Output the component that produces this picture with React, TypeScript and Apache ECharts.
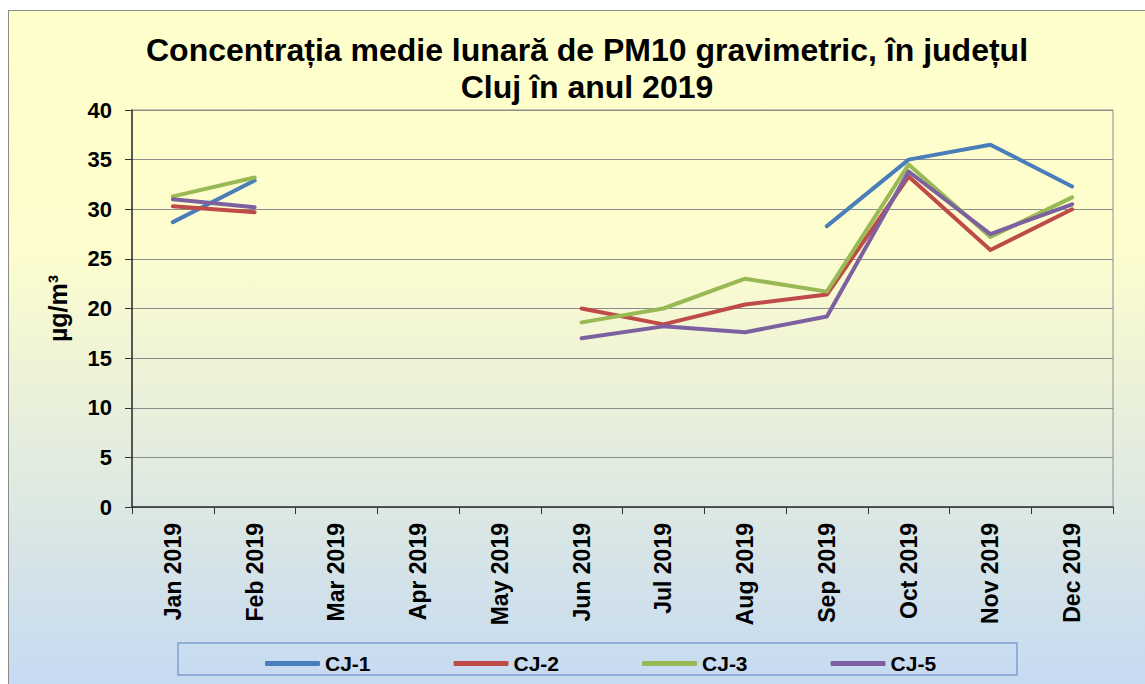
import React, { useEffect, useRef } from "react";
import * as echarts from "echarts";

const months = ["Jan 2019", "Feb 2019", "Mar 2019", "Apr 2019", "May 2019", "Jun 2019", "Jul 2019", "Aug 2019", "Sep 2019", "Oct 2019", "Nov 2019", "Dec 2019"];
const seriesNames = ["CJ-1", "CJ-2", "CJ-3", "CJ-5"];
const cj1 = [28.7, 32.9, null, null, null, null, null, null, 28.3, 35.0, 36.5, 32.3];
const cj2 = [30.3, 29.7, null, null, null, 20.0, 18.4, 20.4, 21.4, 33.3, 25.9, 30.0];
const cj3 = [31.3, 33.2, null, null, null, 18.6, 20.0, 23.0, 21.7, 34.5, 27.2, 31.2];
const cj5 = [31.0, 30.2, null, null, null, 17.0, 18.2, 17.6, 19.2, 33.8, 27.5, 30.5];
const colors = ["#4A7EBB", "#BE4B48", "#98B954", "#7D60A0"];
const titleText = "Concentrația medie lunară de PM10 gravimetric, în județul\nCluj în anul 2019";
const yName = "µg/m³";

const FONT = "'Liberation Sans', Arial, sans-serif";

export default function App() {
  const ref = useRef<HTMLDivElement>(null);
  useEffect(() => {
    if (!ref.current) return;
    const chart = echarts.init(ref.current, null, { renderer: "svg" });
    const data = [cj1, cj2, cj3, cj5];
    chart.setOption({
      animation: false,
      backgroundColor: new echarts.graphic.LinearGradient(0, 0, 0, 1, [
        { offset: 0, color: "#FFFFCC" },
        { offset: 0.35, color: "#FDFDCD" },
        { offset: 1, color: "#C6DAF2" },
      ]),
      title: {
        text: titleText,
        left: 574,
        top: 16,
        textAlign: "center",
        textStyle: { fontFamily: FONT, fontWeight: "bold", fontSize: 32, lineHeight: 37, color: "#000" },
      },
      graphic: [
        {
          type: "rect",
          shape: { x: 0, y: 0, width: 1145, height: 700 },
          style: { fill: "none", stroke: "#8C8C8C", lineWidth: 2 },
          silent: true,
        },
        {
          type: "rect",
          shape: { x: 170, y: 633, width: 839, height: 32 },
          style: { fill: "none", stroke: "#7F9FCF", lineWidth: 1.5 },
          silent: true,
          z: 0,
        },
      ],
      legend: {
        data: seriesNames,
        left: 252,
        top: 638,
        itemWidth: 55,
        itemHeight: 5,
        itemGap: 83,
        icon: "roundRect",
        textStyle: { fontFamily: FONT, fontWeight: "bold", fontSize: 21, color: "#000", padding: [0, 0, 0, 0] },
      },
      grid: {
        left: 124,
        top: 100,
        width: 981,
        height: 397,
        show: true,
        borderColor: "#8C8C8C",
        borderWidth: 1,
        backgroundColor: "transparent",
      },
      xAxis: {
        type: "category",
        data: months,
        boundaryGap: true,
        axisLine: { lineStyle: { color: "#333", width: 1.5 } },
        axisTick: { show: true, length: 7, lineStyle: { color: "#333" } },
        axisLabel: { rotate: 90, margin: 16, interval: 0, fontFamily: FONT, fontWeight: "bold", fontSize: 23, color: "#000" },
        splitLine: { show: false },
      },
      yAxis: {
        type: "value",
        min: 0,
        max: 40,
        interval: 5,
        name: yName,
        nameLocation: "middle",
        nameGap: 62,
        nameTextStyle: { fontFamily: FONT, fontWeight: "bold", fontSize: 25, color: "#000" },
        axisLine: { show: true, lineStyle: { color: "#333", width: 1.5 } },
        axisTick: { show: true, length: 7, lineStyle: { color: "#333" } },
        axisLabel: { margin: 20, fontFamily: FONT, fontWeight: "bold", fontSize: 22, color: "#000" },
        splitLine: { show: true, lineStyle: { color: "#8C8C8C", width: 1 } },
      },
      series: seriesNames.map((name, i) => ({
        name,
        type: "line",
        data: data[i],
        connectNulls: false,
        showSymbol: false,
        symbol: "none",
        lineStyle: { width: 4, color: colors[i], cap: "round", join: "round" },
        itemStyle: { color: colors[i] },
      })),
    });
    return () => chart.dispose();
  }, []);
  return (
    <div
      ref={ref}
      style={{ position: "absolute", left: 8, top: 10, width: 1137, height: 674 }}
    />
  );
}
